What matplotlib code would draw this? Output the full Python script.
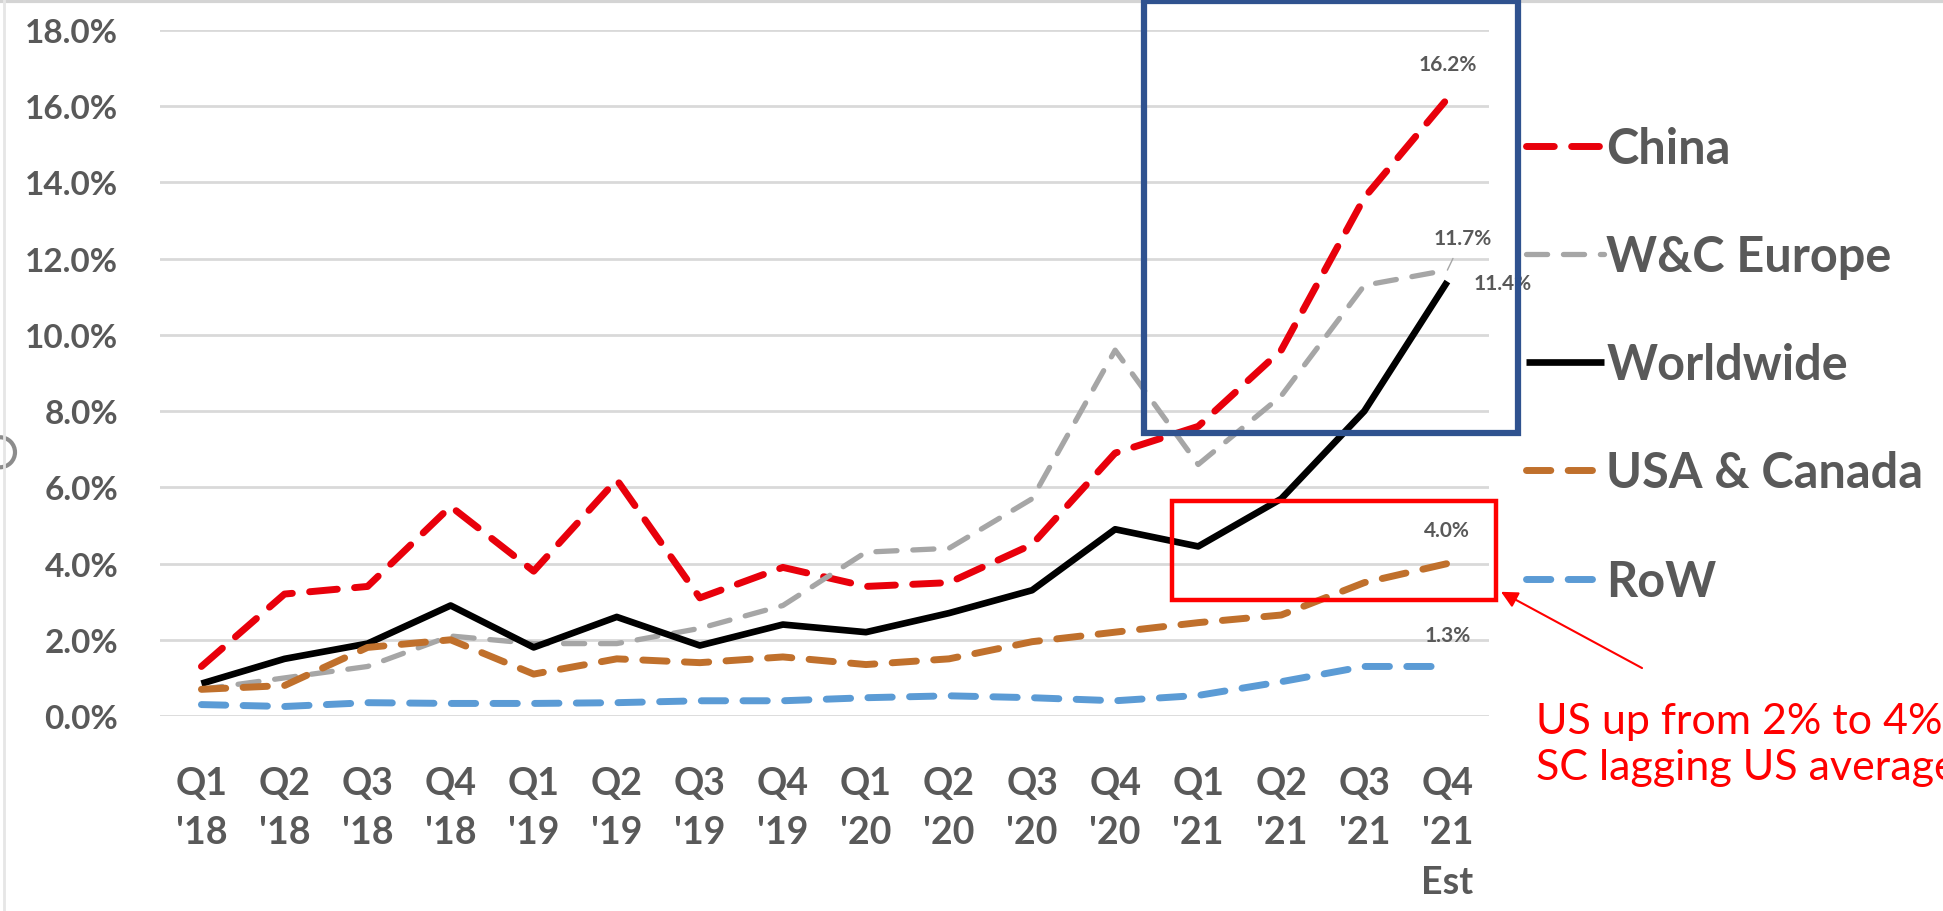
import numpy as np
import matplotlib.pyplot as plt
from matplotlib.patches import Rectangle, Ellipse
from matplotlib.lines import Line2D

plt.rcParams['font.family'] = ['Lato', 'DejaVu Sans']

quarters = ["Q1\n'18", "Q2\n'18", "Q3\n'18", "Q4\n'18",
            "Q1\n'19", "Q2\n'19", "Q3\n'19", "Q4\n'19",
            "Q1\n'20", "Q2\n'20", "Q3\n'20", "Q4\n'20",
            "Q1\n'21", "Q2\n'21", "Q3\n'21", "Q4\n'21\nEst"]

china = [1.3, 3.2, 3.4, 5.5, 3.8, 6.2, 3.1, 3.9, 3.4, 3.5, 4.5, 6.9, 7.6, 9.6, 13.6, 16.2]
europe = [0.7, 1.0, 1.3, 2.1, 1.9, 1.9, 2.3, 2.9, 4.3, 4.4, 5.7, 9.6, 6.6, 8.4, 11.3, 11.7]
world = [0.85, 1.5, 1.9, 2.9, 1.8, 2.6, 1.85, 2.4, 2.2, 2.7, 3.3, 4.9, 4.45, 5.7, 8.0, 11.4]
usa = [0.7, 0.8, 1.8, 2.0, 1.1, 1.5, 1.4, 1.55, 1.35, 1.5, 1.95, 2.2, 2.45, 2.65, 3.5, 4.0]
row = [0.3, 0.25, 0.35, 0.33, 0.33, 0.35, 0.4, 0.4, 0.48, 0.53, 0.48, 0.4, 0.54, 0.9, 1.3, 1.3]

series = [
    ("China", china, '#E8000B', 5, (4, 2.5)),
    ("W&C Europe", europe, '#A6A6A6', 3.8, (4, 3)),
    ("Worldwide", world, '#000000', 4.8, None),
    ("USA & Canada", usa, '#C0702C', 5, (3.5, 2.5)),
    ("RoW", row, '#5B9BD5', 5, (3.5, 2.5)),
]

grey_txt = '#595959'

fig = plt.figure(figsize=(19.43, 9.12), dpi=100)
ax = fig.add_axes([0.0823, 0.2138, 0.6840, 0.7522])

x = np.arange(len(quarters))
for name, vals, col, lw, dash in series:
    line, = ax.plot(x, vals, color=col, lw=lw, label=name, solid_capstyle='butt')
    if dash is not None:
        line.set_dashes(dash)
        line.set_dash_capstyle('round')

ax.set_xlim(-0.5, len(quarters) - 0.5)
ax.set_ylim(0, 18)
ax.set_yticks(np.arange(0, 19, 2))
ax.set_yticklabels([f"{v:.1f}%" for v in np.arange(0, 19, 2)])
ax.set_xticks(x)
ax.set_xticklabels(quarters, linespacing=1.55, va='top')
ax.grid(axis='y', color='#D9D9D9', lw=2)
ax.set_axisbelow(True)
for s in ax.spines.values():
    s.set_visible(False)
ax.tick_params(axis='y', length=0, pad=30, labelsize=24, labelcolor=grey_txt)
ax.tick_params(axis='x', length=0, pad=36, labelsize=27, labelcolor=grey_txt)
for t in ax.get_yticklabels() + ax.get_xticklabels():
    t.set_fontweight('bold')

# end-of-series value labels
lab_kw = dict(textcoords='offset points', fontsize=15, fontweight='bold',
              color=grey_txt, ha='center', va='center')
last = len(quarters) - 1
ax.annotate(f"{china[-1]:.1f}%", (last, china[-1]), xytext=(0, 25), **lab_kw)
ax.annotate(f"{europe[-1]:.1f}%", (last, europe[-1]), xytext=(11, 23),
            arrowprops=dict(arrowstyle='-', color='#A6A6A6', lw=1,
                            shrinkA=6, shrinkB=0), **lab_kw)
ax.annotate(f"{world[-1]:.1f}%", (last, world[-1]), xytext=(40, -1), **lab_kw)
ax.annotate(f"{usa[-1]:.1f}%", (last, usa[-1]), xytext=(0, 24), **lab_kw)
ax.annotate(f"{row[-1]:.1f}%", (last, row[-1]), xytext=(0, 23), **lab_kw)

leg = ax.legend(loc='upper left', bbox_to_anchor=(0.7855, 0.861),
                bbox_transform=fig.transFigure, frameon=False,
                prop={'family': 'Lato', 'weight': 'bold', 'size': 35},
                handlelength=1.6, handletextpad=0.05, labelspacing=1.3,
                borderaxespad=0, borderpad=0)
for t in leg.get_texts():
    t.set_color(grey_txt)

# highlight boxes and callout
fig.patches.append(Rectangle((0.5888, 0.5241), 0.1925, 0.4737, transform=fig.transFigure,
                             fill=False, ec='#2F528F', lw=4.5, zorder=5))
fig.patches.append(Rectangle((0.6032, 0.3410), 0.1668, 0.1086, transform=fig.transFigure,
                             fill=False, ec='#FF0000', lw=3.2, zorder=5))
ax.annotate('', xy=(0.7725, 0.3500), xycoords='figure fraction',
            xytext=(0.8451, 0.2664), textcoords='figure fraction',
            arrowprops=dict(arrowstyle='-|>', color='#FF0000', lw=1.5,
                            mutation_scale=25, shrinkA=0, shrinkB=0))
fig.text(0.7905, 0.183, "US up from 2% to 4%\nSC lagging US average",
         color='#FF0000', fontsize=31, ha='left', va='center',
         linespacing=1.25, family='Lato')

# slide frame remnants
fig.add_artist(Line2D([0, 1], [0.998, 0.998], transform=fig.transFigure,
                      color='#D4D4D4', lw=3))
fig.add_artist(Line2D([0.002, 0.002], [0, 1], transform=fig.transFigure,
                      color='#E6E6E6', lw=2))
fig.patches.append(Ellipse((0.0, 0.503), 30 / 1943, 30 / 912, transform=fig.transFigure,
                           fill=False, ec='#8C8C8C', lw=3))

fig.savefig('out.png', dpi=100, facecolor='white')
